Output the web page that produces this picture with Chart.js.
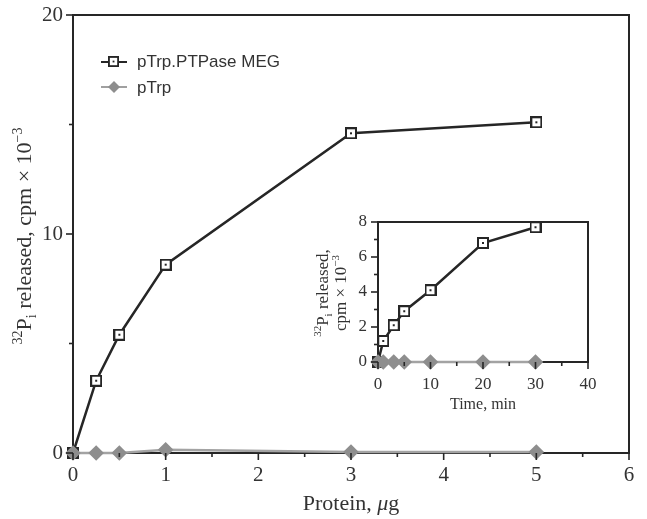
<!DOCTYPE html>
<html>
<head>
<meta charset="utf-8">
<script src="https://cdn.jsdelivr.net/npm/chart.js@4.4.1/dist/chart.umd.min.js"></script>
<style>
  html, body { margin: 0; padding: 0; background: #fff; }
  #wrap { position: relative; width: 647px; height: 519px; }
  #main { position: absolute; left: 0; top: 0; }
  #inset { position: absolute; left: 305px; top: 205px; }
</style>
</head>
<body>
<div id="wrap">
  <canvas id="main" width="647" height="519"></canvas>
  <canvas id="inset" width="305" height="215"></canvas>
</div>
<script>
// main panel: 32Pi released vs protein
const proteinUg = [0, 0.25, 0.5, 1, 3, 5]
const megByProtein = [0, 3.3, 5.4, 8.6, 14.6, 15.1]
const trpByProtein = [0, 0, 0, 0.15, 0.05, 0.05]

// inset: 32Pi released vs time
const timeMin = [0, 1, 3, 5, 10, 20, 30]
const megByTime = [0, 1.2, 2.1, 2.9, 4.1, 6.8, 7.7]
const trpByTime = [0, 0, 0, 0, 0, 0, 0]

const seriesNames = ['pTrp.PTPase MEG', 'pTrp']

const INK = '#262626'
const TXT = '#333'
const GREY = '#8e8e8e'
const SERIF = "'Liberation Serif', 'DejaVu Serif', serif"
const SANS = "'Liberation Sans', Arial, sans-serif"

function squareMarker(size) {
  const c = document.createElement('canvas')
  c.width = size
  c.height = size
  const ctx = c.getContext('2d')
  ctx.fillStyle = '#fff'
  ctx.fillRect(0, 0, size, size)
  ctx.strokeStyle = INK
  ctx.lineWidth = 2
  ctx.strokeRect(1, 1, size - 2, size - 2)
  ctx.fillStyle = INK
  const m = Math.floor(size / 2) - 1
  ctx.fillRect(m, m, 2, 2)
  return c
}
const sq = squareMarker(12)

const pts = (xs, ys) => xs.map((x, i) => ({ x, y: ys[i] }))

// text with super/subscripts, centred on (cx, cy), optionally rotated
function drawRich(ctx, segs, size, cx, cy, rot) {
  const fontOf = s => (s.italic ? 'italic ' : '') + Math.round(size * (s.s || 1)) + 'px ' + SERIF
  let w = 0
  segs.forEach(s => { ctx.font = fontOf(s); s.w = ctx.measureText(s.t).width; w += s.w })
  ctx.save()
  ctx.translate(cx, cy)
  if (rot) ctx.rotate(rot)
  ctx.fillStyle = TXT
  ctx.textBaseline = 'alphabetic'
  let x = -w / 2
  segs.forEach(s => {
    ctx.font = fontOf(s)
    ctx.fillText(s.t, x, size * 0.34 + (s.dy || 0) * size)
    x += s.w
  })
  ctx.restore()
}

const sup = t => ({ t, s: 0.62, dy: -0.42 })
const sub = t => ({ t, s: 0.62, dy: 0.22 })

// frame (top + right edge) and outward ticks, minor ones shorter
const axesDeco = {
  id: 'axesDeco',
  afterDraw(chart) {
    const { ctx, chartArea: a, scales } = chart
    ctx.save()
    ctx.strokeStyle = INK
    ctx.lineWidth = 2
    ctx.beginPath()
    ctx.moveTo(a.left, a.top)
    ctx.lineTo(a.right, a.top)
    ctx.lineTo(a.right, a.bottom)
    ctx.stroke()
    ctx.lineWidth = 1.6
    scales.x.ticks.forEach(t => {
      const px = scales.x.getPixelForValue(t.value)
      const len = t.label !== '' ? 7 : 4
      ctx.beginPath(); ctx.moveTo(px, a.bottom); ctx.lineTo(px, a.bottom + len); ctx.stroke()
    })
    scales.y.ticks.forEach(t => {
      const py = scales.y.getPixelForValue(t.value)
      const len = t.label !== '' ? 7 : 4
      ctx.beginPath(); ctx.moveTo(a.left, py); ctx.lineTo(a.left - len, py); ctx.stroke()
    })
    ctx.restore()
  }
}

const mainTitles = {
  id: 'mainTitles',
  afterDraw(chart) {
    const ctx = chart.ctx
    drawRich(ctx, [sup('32'), { t: 'P' }, sub('i'), { t: ' released, cpm \u00d7 10' }, sup('\u22123')], 22, 24, 236, -Math.PI / 2)
    drawRich(ctx, [{ t: 'Protein, ' }, { t: '\u03bc', italic: true }, { t: 'g' }], 22, 351, 503)

    // legend
    ctx.save()
    ctx.font = '17px ' + SANS
    ctx.textBaseline = 'middle'
    ctx.strokeStyle = INK
    ctx.lineWidth = 2
    ctx.beginPath(); ctx.moveTo(101, 62); ctx.lineTo(127, 62); ctx.stroke()
    ctx.drawImage(sq, 108, 56, 11, 11)
    ctx.fillStyle = TXT
    ctx.fillText(seriesNames[0], 137, 62)
    ctx.strokeStyle = '#a0a0a0'
    ctx.beginPath(); ctx.moveTo(101, 87); ctx.lineTo(127, 87); ctx.stroke()
    ctx.fillStyle = GREY
    ctx.beginPath()
    ctx.moveTo(114, 81); ctx.lineTo(120, 87); ctx.lineTo(114, 93); ctx.lineTo(108, 87)
    ctx.closePath(); ctx.fill()
    ctx.fillStyle = TXT
    ctx.fillText(seriesNames[1], 137, 88)
    ctx.restore()
  }
}

const insetTitles = {
  id: 'insetTitles',
  afterDraw(chart) {
    const ctx = chart.ctx
    drawRich(ctx, [sup('32'), { t: 'P' }, sub('i'), { t: ' released,' }], 17, 17, 88, -Math.PI / 2)
    drawRich(ctx, [{ t: 'cpm \u00d7 10' }, sup('\u22123')], 17, 35, 88, -Math.PI / 2)
    drawRich(ctx, [{ t: 'Time, min' }], 16, 178, 199)
  }
}

function datasets(xs, megY, trpY) {
  return [
    {
      label: seriesNames[0],
      data: pts(xs, megY),
      borderColor: INK,
      borderWidth: 2.5,
      pointStyle: sq,
      clip: false,
      order: 1
    },
    {
      label: seriesNames[1],
      data: pts(xs, trpY),
      borderColor: '#a3a3a3',
      borderWidth: 2.5,
      pointStyle: 'rectRot',
      pointRadius: 6,
      backgroundColor: GREY,
      pointBorderColor: GREY,
      clip: false,
      order: 0
    }
  ]
}

function axis(opts) {
  return {
    type: 'linear',
    min: opts.min,
    max: opts.max,
    border: { color: INK, width: 2 },
    grid: { display: false, drawTicks: false },
    ticks: {
      stepSize: opts.step,
      color: TXT,
      font: { family: SERIF, size: opts.fontSize },
      padding: opts.pad,
      maxRotation: 0,
      autoSkip: false,
      callback: v => (Math.abs(v / opts.labelEvery - Math.round(v / opts.labelEvery)) < 1e-6 ? v : '')
    },
    afterFit: s => {
      // box is set by layout padding, not by label overhang
      s.paddingTop = s.paddingBottom = s.paddingLeft = s.paddingRight = 0
      if (opts.width) s.width = opts.width
      if (opts.height) s.height = opts.height
    }
  }
}

new Chart(document.getElementById('main'), {
  type: 'line',
  data: { datasets: datasets(proteinUg, megByProtein, trpByProtein) },
  options: {
    responsive: false,
    animation: false,
    layout: { padding: { left: 0, top: 15, right: 18, bottom: 0 } },
    plugins: { legend: { display: false }, tooltip: { enabled: false } },
    scales: {
      x: axis({ min: 0, max: 6, step: 0.5, labelEvery: 1, fontSize: 21, pad: 10, height: 66 }),
      y: axis({ min: 0, max: 20, step: 5, labelEvery: 10, fontSize: 21, pad: 10, width: 73 })
    }
  },
  plugins: [axesDeco, mainTitles]
})

new Chart(document.getElementById('inset'), {
  type: 'line',
  data: { datasets: datasets(timeMin, megByTime, trpByTime) },
  options: {
    responsive: false,
    animation: false,
    layout: { padding: { left: 0, top: 17, right: 22, bottom: 0 } },
    plugins: { legend: { display: false }, tooltip: { enabled: false } },
    scales: {
      x: axis({ min: 0, max: 40, step: 5, labelEvery: 10, fontSize: 17, pad: 12, height: 58 }),
      y: axis({ min: 0, max: 8, step: 1, labelEvery: 2, fontSize: 17, pad: 11, width: 73 })
    }
  },
  plugins: [axesDeco, insetTitles]
})
</script>
</body>
</html>
